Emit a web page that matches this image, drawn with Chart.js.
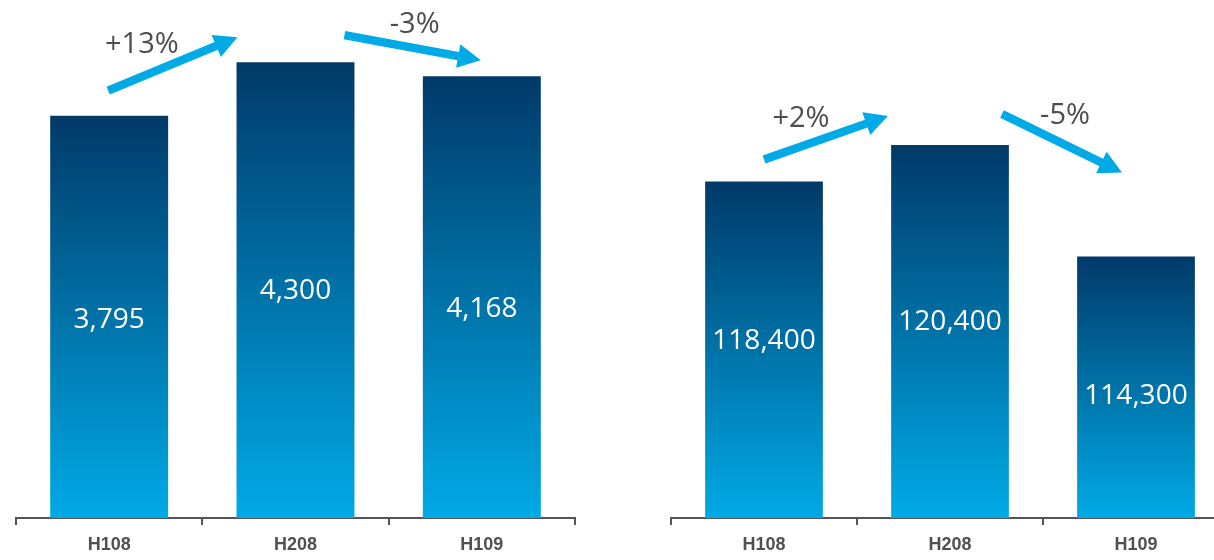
<!DOCTYPE html>
<html><head><meta charset="utf-8">
<script src="https://cdn.jsdelivr.net/npm/chart.js@4.4.1/dist/chart.umd.min.js"></script>
<style>
html,body{margin:0;padding:0;background:#fff;overflow:hidden;width:1214px;height:560px;position:relative;}
#w1{position:absolute;left:0;top:0;width:600px;height:560px;}
#w2{position:absolute;left:640px;top:0;width:600px;height:560px;}
</style></head><body>
<div id="w1"><canvas id="c1"></canvas></div>
<div id="w2"><canvas id="c2"></canvas></div>
<script>
const categories = ['H108', 'H208', 'H109'];
const leftValues = [3795, 4300, 4168];
const rightValues = [118400, 120400, 114300];
const leftChanges = ['+13%', '-3%'];
const rightChanges = ['+2%', '-5%'];

const AXIS_COLOR = '#555555';
const ARROW_COLOR = '#00aae6';

function barGradient(ctx) {
  const chart = ctx.chart;
  const area = chart.chartArea;
  if (!area) return '#0070a8';
  const ys = chart.scales.y;
  const top = ys.getPixelForValue(ctx.raw);
  const g = chart.ctx.createLinearGradient(0, top, 0, area.bottom);
  g.addColorStop(0, '#003a69');
  g.addColorStop(1, '#00aae6');
  return g;
}

const overlayPlugin = {
  id: 'overlay',
  afterDatasetsDraw(chart, args, opts) {
    const c = chart.ctx;
    const meta = chart.getDatasetMeta(0);
    const bottom = chart.chartArea.bottom;
    // value labels
    c.save();
    c.fillStyle = '#ffffff';
    c.font = '28px "Open Sans", "Noto Sans", sans-serif';
    c.textAlign = 'center';
    c.textBaseline = 'middle';
    meta.data.forEach((bar, i) => {
      const v = chart.data.datasets[0].data[i];
      const base = Math.min(bar.base, bottom);
      c.fillText(v.toLocaleString('en-US'), bar.x, (bar.y + base) / 2 + (opts.labelShift ? opts.labelShift[i] : 0));
    });
    c.restore();
    // arrows
    (opts.arrows || []).forEach((ar, k) => {
      const a = meta.data[ar.from], b = meta.data[ar.to];
      const x1 = a.x + ar.tail[0], y1 = a.y + ar.tail[1];
      const x2 = b.x + ar.tip[0], y2 = b.y + ar.tip[1];
      const ang = Math.atan2(y2 - y1, x2 - x1);
      const len = Math.hypot(x2 - x1, y2 - y1);
      const headL = 23, headW = 12, shaftW = 4.2;
      c.save();
      c.translate(x1, y1);
      c.rotate(ang);
      c.fillStyle = ARROW_COLOR;
      c.beginPath();
      c.moveTo(0, -shaftW);
      c.lineTo(len - headL, -shaftW);
      c.lineTo(len - headL, -headW);
      c.lineTo(len, 0);
      c.lineTo(len - headL, headW);
      c.lineTo(len - headL, shaftW);
      c.lineTo(0, shaftW);
      c.closePath();
      c.fill();
      c.restore();
      c.save();
      c.fillStyle = '#4d4d4d';
      c.font = '29px "Open Sans", "Noto Sans", sans-serif';
      c.textAlign = 'center';
      c.textBaseline = 'middle';
      c.fillText(opts.changes[k], (x1 + x2) / 2 + ar.label[0], (y1 + y2) / 2 + ar.label[1]);
      c.restore();
    });
  }
};

function makeChart(id, values, changes, yMin, yMax, padL, padR, arrows, labelShift) {
  return new Chart(document.getElementById(id), {
    type: 'bar',
    data: {
      labels: categories,
      datasets: [{
        data: values,
        backgroundColor: barGradient,
        borderWidth: 0,
        categoryPercentage: 1.0,
        barPercentage: 0.633
      }]
    },
    options: {
      responsive: true,
      maintainAspectRatio: false,
      animation: false,
      layout: { padding: { left: padL, right: padR, top: 6, bottom: 0 } },
      plugins: {
        legend: { display: false },
        tooltip: { enabled: false },
        overlay: { arrows: arrows, changes: changes, labelShift: labelShift }
      },
      scales: {
        x: {
          grid: { display: true, drawOnChartArea: false, drawTicks: true, tickLength: 7, color: AXIS_COLOR, lineWidth: 2, offset: true },
          border: { display: true, color: AXIS_COLOR, width: 2 },
          ticks: { color: '#505050', padding: 9, font: { family: '"Liberation Sans", Arial, sans-serif', size: 18, weight: 'bold' } },
          afterFit: s => { s.height = 42; }
        },
        y: { display: false, min: yMin, max: yMax }
      }
    },
    plugins: [overlayPlugin]
  });
}

makeChart('c1', leftValues, leftChanges, 0, 4830, 16, 25, [
  { from: 0, to: 1, tail: [-1, -25], tip: [-58, -25], label: [-31, -19] },
  { from: 1, to: 2, tail: [49, -27], tip: [-1, -16], label: [2, -23] }
], [3, 1, 12]);
makeChart('c2', rightValues, rightChanges, 100000, 128000, 31, 11, [
  { from: 0, to: 1, tail: [0, -22], tip: [-62, -29], label: [-25, -19] },
  { from: 1, to: 2, tail: [52, -31], tip: [-14, -84], label: [3, -28] }
], [-9, -9, 9]);
</script>
</body></html>
